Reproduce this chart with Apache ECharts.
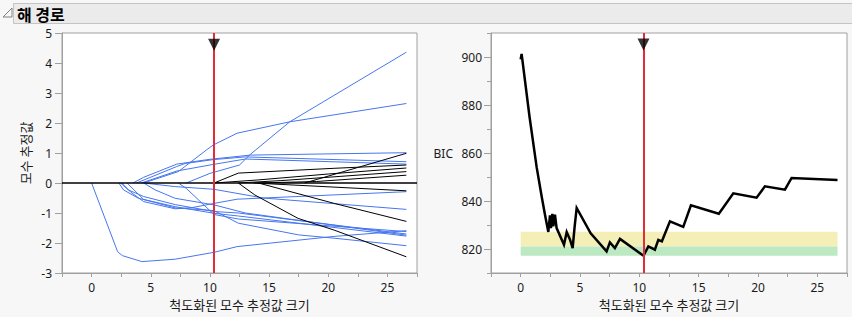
<!DOCTYPE html>
<html><head><meta charset="utf-8">
<script src="https://cdn.jsdelivr.net/npm/echarts@6/dist/echarts.min.js"></script>
<style>html,body{margin:0;padding:0;background:#f7f7f7;}#c{width:852px;height:317px;}</style>
</head><body><div id="c"></div>
<script>
// ---- data ----
const titleText = '해 경로';
const xName = '척도화된 모수 추정값 크기';
const leftYName = '모수 추정값';
const rightYName = 'BIC';
const selectedSize = 10.35;
const leftYTicks = [-3,-2,-1,0,1,2,3,4,5];
const bicMajorTicks = [820,840,860,880,900];
const bicMinorTicks = [810,830,850,870,890,910];

// blue coefficient paths (entered before the selected model)
const pathBig = [[0,0],[2.2,-2.29],[2.6,-2.42],[4.25,-2.62],[7.06,-2.54],[10.35,-2.31],[12.3,-2.12],[20.5,-1.78],[26.6,-1.59]];
const pathN1 = [[2.3,0],[2.7,-0.23],[3.96,-0.51],[7.06,-0.79],[10.35,-1.01],[12.4,-1.1],[26.6,-1.77]];
const pathN2 = [[2.45,0],[3.1,-0.23],[4.4,-0.45],[7.06,-0.72],[10.35,-0.95],[12.4,-1.0],[26.6,-1.7]];
const pathN3 = [[2.55,0],[3.3,-0.3],[4.4,-0.62],[7.06,-0.86],[8.5,-0.82],[10.35,-0.68],[12.3,-0.54],[26.6,-0.29]];
const pathN4 = [[3.0,0],[4.4,-0.55],[7.06,-0.83],[10.35,-0.92],[12.4,-1.34],[17.5,-1.73],[20.5,-1.84],[26.6,-2.09]];
const pathN5 = [[4.4,0],[5.37,-0.23],[7.06,-0.51],[10.35,-0.73],[13,-1.0],[26.6,-1.74]];
const pathN6 = [[4.4,0],[7.06,-0.12],[10.35,-0.21],[14.5,-0.5],[26.6,-0.88]];
const pathN7 = [[7.33,0],[8.0,-0.18],[10.35,-1.05],[12.4,-1.2],[26.6,-1.62]];
const pathP1 = [[3.5,0],[4.4,0.19],[7.2,0.63],[10.0,0.79],[13.4,0.93],[26.6,1.01]];
const pathP2 = [[3.8,0],[7.2,0.55],[7.9,0.65],[10.3,0.78],[13,0.87],[26.6,0.71]];
const pathP3 = [[4.2,0],[7.2,0.4],[10.3,0.62],[13,0.8],[26.6,0.63]];
const pathB = [[4.4,0],[7.33,0.38],[9.7,1.1],[10.3,1.27],[12.3,1.66],[16.75,2.04],[26.6,2.65]];
const pathA = [[8.0,0],[10.0,0.32],[12.5,0.6],[13.4,0.95],[16.75,2.04],[26.6,4.36]];
// black coefficient paths (entered after the selected model)
const pathK1 = [[10.35,0],[12.4,0.33],[20.5,0.49],[26.6,0.6]];
const pathK2 = [[10.35,0],[14,0.1],[20,0.3],[26.6,0.5]];
const pathK3 = [[12.4,0],[16,0.08],[21,0.22],[26.6,0.38]];
const pathK4 = [[14,0],[19,0.05],[26.6,0.26]];
const pathK5 = [[14.1,0],[20.5,-0.68],[26.6,-1.28]];
const pathK6 = [[12.4,0],[13.8,-0.4],[17.45,-1.18],[20.5,-1.57],[26.6,-2.46]];
const pathK7 = [[18,0],[26.6,0.99]];
const pathK8 = [[13.7,0],[26.6,-0.26]];

const bluePaths = [pathBig,pathN1,pathN2,pathN3,pathN4,pathN5,pathN6,pathN7,pathP1,pathP2,pathP3,pathB,pathA];
const blackPaths = [pathK1,pathK2,pathK3,pathK4,pathK5,pathK6,pathK7,pathK8];

// BIC path
const bicX = [0,0.08,0.75,1.35,1.77,2.05,2.33,2.47,2.55,2.67,2.75,2.89,3.03,3.65,3.88,4.16,4.38,4.55,4.72,5.9,7.24,7.52,7.94,8.37,10.35,10.76,11.31,11.6,11.9,12.58,13.7,14.35,16.7,17.92,19.88,20.58,22.27,22.83,26.7];
const bicY = [899,901.3,875,854,841.9,834.3,827.1,834,828.7,834.6,829.4,834.3,828.7,821.8,827.1,823.9,820.4,829.4,837.1,826.5,819,822.75,820.4,824.2,817.2,821.1,819.7,823.8,823.2,831.5,829.2,838.2,834.7,843.2,841.4,846.1,844.7,849.6,848.8];
const bandX = [0,26.7];
const bandYellow = [821,827.2];
const bandGreen = [817.2,821];

// ---- chart ----
const BLUE = '#4676ee', RED = '#e42b3a', AX = '#a0a0a0', TXT = '#1a1a1a';
const FONT = 'Noto Sans';
const chart = echarts.init(document.getElementById('c'), null, {renderer:'svg', width:852, height:317});

function xAxisCfg(gi){
  return {type:'value', gridIndex:gi, min:-2.5, max:27.5, interval:2.5,
    axisLine:{onZero:false, lineStyle:{color:AX}}, axisTick:{length:4, lineStyle:{color:AX}},
    splitLine:{show:false},
    axisLabel:{margin:8, color:TXT, fontSize:12, fontFamily:FONT,
      formatter:v => (Math.abs(v % 5) < 1e-9 ? String(v) : '')},
    name:xName, nameLocation:'middle', nameGap:25,
    nameTextStyle:{color:TXT, fontSize:13, fontFamily:'Noto Sans CJK KR'}};
}

const series = [];
bluePaths.forEach(p => series.push({type:'line', xAxisIndex:0, yAxisIndex:0, data:p, showSymbol:false, silent:true, z:2,
  lineStyle:{width:1, color:BLUE}}));
blackPaths.forEach(p => series.push({type:'line', xAxisIndex:0, yAxisIndex:0, data:p, showSymbol:false, silent:true, z:3,
  lineStyle:{width:1, color:'#000'}}));
// zero line + selection line + triangle (left)
series.push({type:'scatter', xAxisIndex:0, yAxisIndex:0, data:[[selectedSize, 4.61]], symbol:'triangle', symbolRotate:180,
  symbolSize:[12,12], itemStyle:{color:'#000'}, z:6, silent:true,
  markLine:{silent:true, symbol:'none', label:{show:false}, animation:false,
    data:[{yAxis:0, lineStyle:{color:'#000', width:1.5, type:'solid'}},
          {xAxis:selectedSize, lineStyle:{color:RED, width:2, type:'solid'}}]}});
// bands (right)
series.push({type:'line', xAxisIndex:1, yAxisIndex:1, data:[], z:1, silent:true,
  markArea:{silent:true, data:[
    [{xAxis:bandX[0], yAxis:bandYellow[0], itemStyle:{color:'#f3efb7'}},{xAxis:bandX[1], yAxis:bandYellow[1]}],
    [{xAxis:bandX[0], yAxis:bandGreen[0], itemStyle:{color:'#bde9c2'}},{xAxis:bandX[1], yAxis:bandGreen[1]}]
  ]}});
series.push({type:'line', xAxisIndex:1, yAxisIndex:1, data:bicX.map((x,i)=>[x,bicY[i]]), showSymbol:false, silent:true, z:3,
  lineStyle:{width:2.5, color:'#000', join:'miter'}});
series.push({type:'scatter', xAxisIndex:1, yAxisIndex:1, data:[[selectedSize, 905.2]], symbol:'triangle', symbolRotate:180,
  symbolSize:[12,12], itemStyle:{color:'#000'}, z:6, silent:true,
  markLine:{silent:true, symbol:'none', label:{show:false}, animation:false,
    data:[{xAxis:selectedSize, lineStyle:{color:RED, width:2, type:'solid'}}]}});

chart.setOption({
  animation:false,
  backgroundColor:'#f7f7f7',
  graphic:[
    {type:'rect', shape:{x:13.5, y:3.5, width:845, height:20}, style:{fill:'#ebebeb', stroke:'#c4c4c4', lineWidth:1}},
    {type:'polygon', shape:{points:[[3,17],[12,17],[12,8]]}, style:{fill:'none', stroke:'#808080', lineWidth:1}},
    {type:'text', x:17, y:13.5, style:{text:titleText, font:'bold 16px "Noto Sans CJK KR"', fill:'#000', verticalAlign:'middle'}}
  ],
  grid:[
    {left:62, top:33, width:355, height:240, show:true, backgroundColor:'#fff', borderColor:AX, borderWidth:1},
    {left:491, top:33, width:356, height:240, show:true, backgroundColor:'#fff', borderColor:AX, borderWidth:1}
  ],
  xAxis:[xAxisCfg(0), xAxisCfg(1)],
  yAxis:[
    {type:'value', gridIndex:0, min:-3, max:5, interval:1,
      axisLine:{show:true, onZero:false, lineStyle:{color:AX}}, axisTick:{show:true, length:7, lineStyle:{color:AX}},
      splitLine:{show:false},
      axisLabel:{margin:10, color:TXT, fontSize:12, fontFamily:FONT, customValues:leftYTicks},
      name:leftYName, nameLocation:'middle', nameRotate:90, nameGap:30,
      nameTextStyle:{color:TXT, fontSize:13, fontFamily:'Noto Sans CJK KR'}},
    {type:'value', gridIndex:1, min:810, max:910,
      axisLine:{show:true, onZero:false, lineStyle:{color:AX}},
      axisTick:{show:true, length:7, lineStyle:{color:AX}, customValues:bicMajorTicks},
      splitLine:{show:false},
      axisLabel:{margin:9, color:TXT, fontSize:12, fontFamily:FONT, customValues:bicMajorTicks},
      name:rightYName, nameLocation:'middle', nameRotate:0, nameGap:38,
      nameTextStyle:{color:TXT, fontSize:12, fontFamily:FONT}},
    {type:'value', gridIndex:1, min:810, max:910, position:'left', offset:0,
      axisLine:{show:false, onZero:false}, axisTick:{show:true, length:4, lineStyle:{color:AX}, customValues:bicMinorTicks},
      splitLine:{show:false}, axisLabel:{show:false}}
  ],
  series:series
});
</script></body></html>
